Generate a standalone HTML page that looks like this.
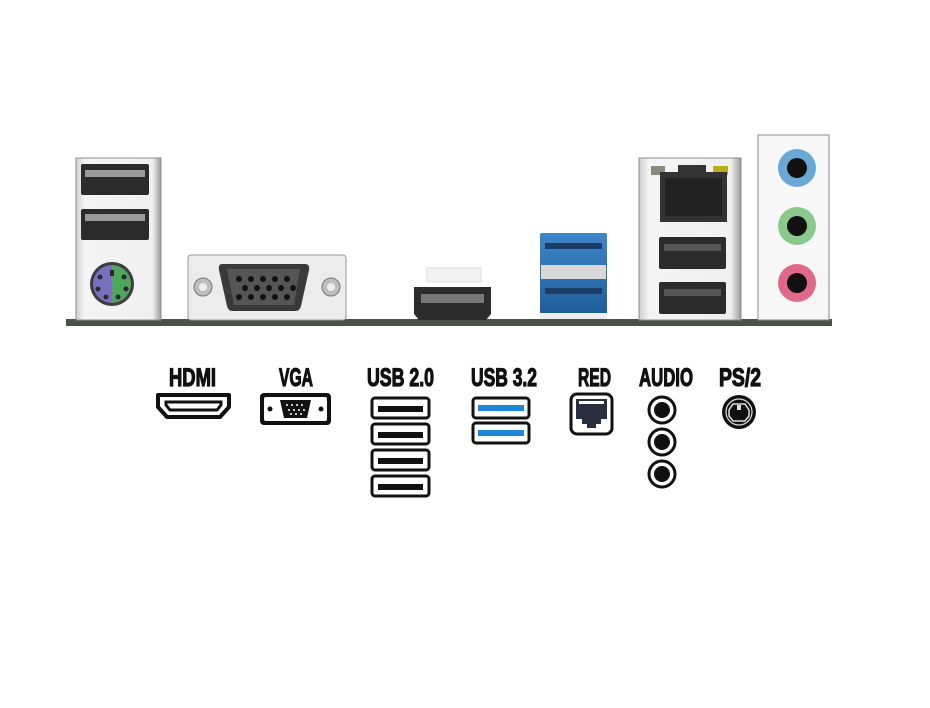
<!DOCTYPE html>
<html><head><meta charset="utf-8"><style>html,body{margin:0;padding:0;background:#fff}svg{display:block}</style></head>
<body>
<svg width="930" height="708" viewBox="0 0 930 708" xmlns="http://www.w3.org/2000/svg">
<defs>
<linearGradient id="silver" x1="0" x2="1"><stop offset="0" stop-color="#cfcfcf"/><stop offset="0.1" stop-color="#f4f4f4"/><stop offset="0.9" stop-color="#f0f0f0"/><stop offset="1" stop-color="#9a9a9a"/></linearGradient>
<linearGradient id="blue" x1="0" y1="0" x2="0" y2="1"><stop offset="0" stop-color="#3d86c8"/><stop offset="1" stop-color="#1d5a98"/></linearGradient>
</defs>
<rect x="66" y="319" width="766" height="7" fill="#4d5248"/>
<rect x="76" y="158" width="85" height="162" fill="url(#silver)" stroke="#8c8c8c"/>
<rect x="81" y="164" width="68" height="31" rx="2" fill="#2b2b2b"/>
<rect x="85" y="170" width="60" height="7" fill="#9a9a9a"/>
<rect x="81" y="209" width="68" height="31" rx="2" fill="#2b2b2b"/>
<rect x="85" y="214" width="60" height="7" fill="#9a9a9a"/>
<circle cx="112" cy="284" r="22" fill="#3d3d3d"/>
<path d="M112 265 A19 19 0 0 0 112 303 Z" fill="#7b6fc0"/>
<path d="M112 265 A19 19 0 0 1 112 303 Z" fill="#4ea55c"/>
<g fill="#2a2a2a"><circle cx="100" cy="277" r="2.5"/><circle cx="124" cy="277" r="2.5"/><circle cx="98" cy="289" r="2.5"/><circle cx="126" cy="289" r="2.5"/><circle cx="106" cy="297" r="2.5"/><circle cx="118" cy="297" r="2.5"/><rect x="110" y="270" width="4" height="6"/></g>
<rect x="188" y="255" width="158" height="65" rx="3" fill="#ececec" stroke="#9a9a9a"/>
<circle cx="203" cy="287" r="9" fill="#bdbdbd" stroke="#777"/><circle cx="203" cy="287" r="4" fill="#eee"/>
<circle cx="331" cy="287" r="9" fill="#bdbdbd" stroke="#777"/><circle cx="331" cy="287" r="4" fill="#eee"/>
<path d="M222 264 H305 Q310 264 309 270 L301 306 Q300 311 295 311 H233 Q228 311 227 306 L219 270 Q218 264 222 264 Z" fill="#3a3a3a"/>
<path d="M227 269 H300 L294 305 H234 Z" fill="#555"/>
<g fill="#111">
<circle cx="239" cy="279" r="3"/><circle cx="251" cy="279" r="3"/><circle cx="263" cy="279" r="3"/><circle cx="275" cy="279" r="3"/><circle cx="287" cy="279" r="3"/>
<circle cx="245" cy="288" r="3"/><circle cx="257" cy="288" r="3"/><circle cx="269" cy="288" r="3"/><circle cx="281" cy="288" r="3"/><circle cx="293" cy="288" r="3"/>
<circle cx="239" cy="297" r="3"/><circle cx="251" cy="297" r="3"/><circle cx="263" cy="297" r="3"/><circle cx="275" cy="297" r="3"/><circle cx="287" cy="297" r="3"/></g>
<rect x="427" y="268" width="54" height="14" fill="#f2f2f2" stroke="#ddd"/>
<path d="M414 287 H491 V314 L486 320 H419 L414 314 Z" fill="#2c2c2c"/>
<rect x="421" y="294" width="63" height="9" fill="#777"/>
<rect x="540" y="233" width="67" height="87" rx="2" fill="url(#blue)"/>
<rect x="541" y="265" width="65" height="14" fill="#d8d8d8"/>
<rect x="545" y="243" width="57" height="6" fill="#1a3c66"/>
<rect x="545" y="288" width="57" height="6" fill="#1a3c66"/>
<rect x="540" y="313" width="67" height="6" fill="#eee"/>
<rect x="639" y="158" width="102" height="162" fill="url(#silver)" stroke="#8c8c8c"/>
<rect x="651" y="166" width="14" height="9" fill="#8a8a80"/><rect x="713" y="166" width="15" height="9" fill="#b7b01a"/>
<path d="M678 165 H706 V172 H727 V222 H660 V172 H678 Z" fill="#333"/>
<rect x="665" y="178" width="57" height="38" fill="#222"/>
<rect x="659" y="237" width="67" height="32" rx="2" fill="#2b2b2b"/>
<rect x="664" y="244" width="57" height="7" fill="#555"/>
<rect x="659" y="282" width="67" height="32" rx="2" fill="#2b2b2b"/>
<rect x="664" y="289" width="57" height="7" fill="#555"/>
<rect x="758" y="135" width="71" height="185" fill="#f7f7f7" stroke="#8c8c8c"/>
<circle cx="797" cy="168" r="19" fill="#6aa8d6"/><circle cx="797" cy="168" r="10" fill="#111"/>
<circle cx="797" cy="226" r="19" fill="#89c98a"/><circle cx="797" cy="226" r="10" fill="#111"/>
<circle cx="797" cy="283" r="19" fill="#e0698a"/><circle cx="797" cy="283" r="10" fill="#111"/>
<g font-family="Liberation Sans, sans-serif" font-weight="bold" font-size="25" fill="#111" stroke="#111" stroke-width="1.2">
<text x="169" y="386" textLength="47" lengthAdjust="spacingAndGlyphs">HDMI</text>
<text x="279" y="386" textLength="34" lengthAdjust="spacingAndGlyphs">VGA</text>
<text x="367" y="386" textLength="67" lengthAdjust="spacingAndGlyphs">USB 2.0</text>
<text x="471" y="386" textLength="66" lengthAdjust="spacingAndGlyphs">USB 3.2</text>
<text x="578" y="386" textLength="33" lengthAdjust="spacingAndGlyphs">RED</text>
<text x="639" y="386" textLength="54" lengthAdjust="spacingAndGlyphs">AUDIO</text>
<text x="719" y="386" textLength="42" lengthAdjust="spacingAndGlyphs">PS/2</text>
</g>
<path d="M158 395 H229 V407 L220 417 H167 L158 407 Z" fill="#fff" stroke="#111" stroke-width="4" stroke-linejoin="round"/>
<path d="M166 402 H221 V405 L217 410 H170 L166 405 Z" fill="#fff" stroke="#111" stroke-width="3"/>
<rect x="260" y="393" width="71" height="32" rx="4" fill="#111"/>
<rect x="264" y="397" width="63" height="24" rx="2" fill="#fff"/>
<path d="M280 400 H311 L307 418 H284 Z" fill="#111"/>
<circle cx="270" cy="409" r="2.5" fill="#111"/><circle cx="321" cy="409" r="2.5" fill="#111"/>
<g fill="#fff"><circle cx="287" cy="405" r="1"/><circle cx="292" cy="405" r="1"/><circle cx="297" cy="405" r="1"/><circle cx="302" cy="405" r="1"/><circle cx="289" cy="410" r="1"/><circle cx="294" cy="410" r="1"/><circle cx="299" cy="410" r="1"/><circle cx="304" cy="410" r="1"/><circle cx="291" cy="414" r="1"/><circle cx="296" cy="414" r="1"/><circle cx="301" cy="414" r="1"/></g>
<g fill="#fff" stroke="#111" stroke-width="3">
<rect x="372" y="398" width="57" height="20" rx="3"/><rect x="372" y="424" width="57" height="20" rx="3"/>
<rect x="372" y="450" width="57" height="20" rx="3"/><rect x="372" y="476" width="57" height="20" rx="3"/>
<rect x="473" y="398" width="56" height="20" rx="3"/><rect x="473" y="423" width="56" height="20" rx="3"/>
</g>
<g fill="#111"><rect x="378" y="406" width="45" height="6"/><rect x="378" y="432" width="45" height="6"/><rect x="378" y="458" width="45" height="6"/><rect x="378" y="484" width="45" height="6"/></g>
<g fill="#1e88d8"><rect x="478" y="405" width="46" height="6"/><rect x="478" y="430" width="46" height="6"/></g>
<rect x="571" y="394" width="41" height="40" rx="6" fill="#fff" stroke="#111" stroke-width="3"/>
<path d="M576 399 H607 V419 H601 V424 H596 V428 H587 V424 H582 V419 H576 Z" fill="#2a2f3f"/>
<g fill="#fff"><rect x="579" y="401" width="25" height="3"/></g>
<g fill="#fff" stroke="#111" stroke-width="3"><circle cx="662" cy="410" r="13"/><circle cx="662" cy="442" r="13"/><circle cx="662" cy="474" r="13"/></g>
<g fill="#111"><circle cx="662" cy="410" r="8"/><circle cx="662" cy="442" r="8"/><circle cx="662" cy="474" r="8"/></g>
<circle cx="739" cy="412" r="17" fill="#111"/>
<circle cx="739" cy="412" r="13" fill="none" stroke="#ddd" stroke-width="1.2"/>
<path d="M733 404 H745 L749 410 V416 L745 421 H733 L729 416 V410 Z" fill="none" stroke="#ddd" stroke-width="1.5"/>
<rect x="737" y="405" width="4" height="5" fill="#ddd"/>
</svg>
</body></html>
